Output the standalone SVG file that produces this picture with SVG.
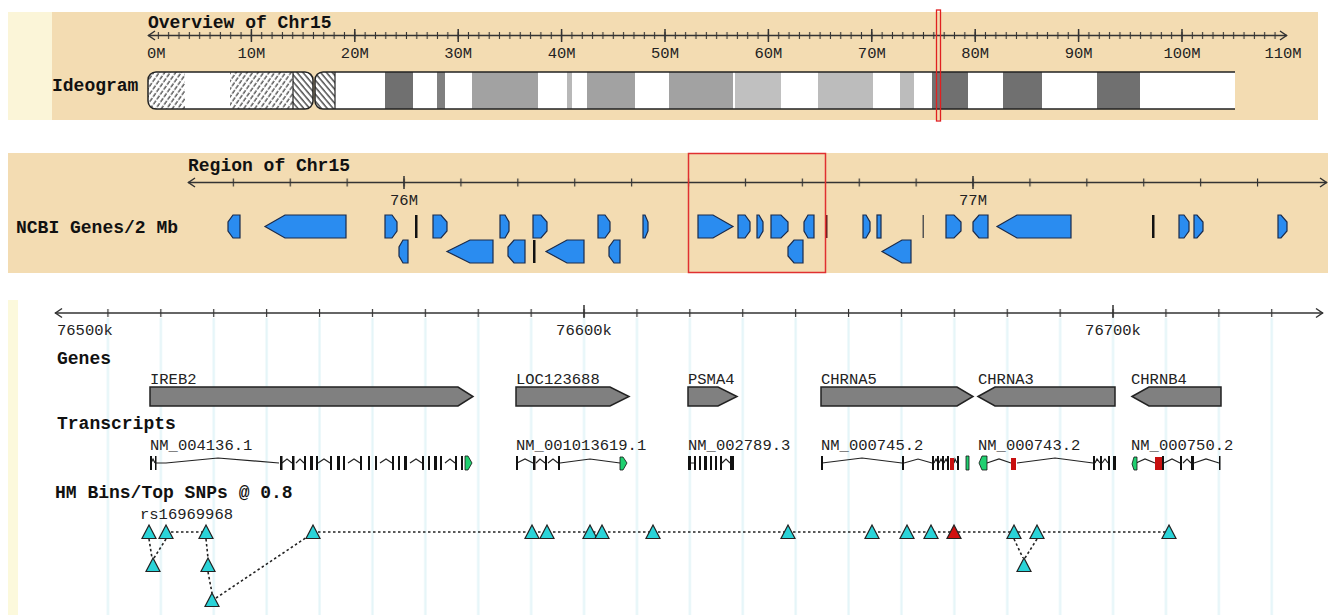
<svg xmlns="http://www.w3.org/2000/svg" width="1328" height="615" viewBox="0 0 1328 615">
<style>
.bt{font-family:"Liberation Mono","DejaVu Sans Mono",monospace;font-weight:bold;font-size:18px;fill:#111}
.lb{font-family:"Liberation Mono","DejaVu Sans Mono",monospace;font-size:15.5px;fill:#222}
.ax{stroke:#333;stroke-width:1.5;fill:none}
.gb{fill:#2a8cf0;stroke:#1a2a4a;stroke-width:1.2}
.gg{fill:#808080;stroke:#222;stroke-width:1.5}
.ex{fill:#111}
.in{stroke:#222;stroke-width:1.2;fill:none}
.snp{fill:#2ad3d8;stroke:#222;stroke-width:1.2}
.ld{stroke:#222;stroke-width:1.6;stroke-dasharray:2.5 2.5;fill:none}
.gr{fill:#20d070;stroke:#111;stroke-width:0.8}
.rd{fill:#c81010}
</style>
<defs>
<pattern id="tk1" patternUnits="userSpaceOnUse" x="142.83" y="0" width="10.34" height="10"><rect x="4.6" y="0" width="1.1" height="10" fill="#333"/></pattern>
<pattern id="tk2" patternUnits="userSpaceOnUse" x="375.55" y="0" width="56.9" height="10"><rect x="27.9" y="0" width="1.2" height="10" fill="#333"/></pattern>
<pattern id="tk3" patternUnits="userSpaceOnUse" x="557.55" y="0" width="52.9" height="10"><rect x="25.9" y="0" width="1.2" height="10" fill="#333"/></pattern>
<pattern id="grid" patternUnits="userSpaceOnUse" x="557.55" y="0" width="52.9" height="10"><rect x="25.4" y="0" width="2.2" height="10" fill="#e4f5f8"/></pattern>
<pattern id="hd" patternUnits="userSpaceOnUse" width="4.5" height="6" patternTransform="rotate(35)"><line x1="1" y1="0" x2="1" y2="6" stroke="#222" stroke-width="1.1" stroke-dasharray="3.5 1.5"/></pattern>
<pattern id="hb" patternUnits="userSpaceOnUse" width="4.5" height="5" patternTransform="rotate(-40)"><line x1="1" y1="0" x2="1" y2="5" stroke="#222" stroke-width="1.2"/></pattern>
<clipPath id="parm"><rect x="148" y="72" width="165" height="37" rx="8"/></clipPath>
<clipPath id="qarm"><path d="M323,72 H1235 V109 H323 A8,8 0 0 1 315,101 V80 A8,8 0 0 1 323,72 Z"/></clipPath>
</defs>

<!-- backgrounds -->
<rect x="8" y="12" width="44" height="108" fill="#fbf5d8"/>
<rect x="52" y="12" width="1266" height="108" fill="#f3dcb2"/>
<rect x="8" y="153" width="1320" height="120" fill="#f3dcb2"/>
<rect x="8" y="300" width="10" height="315" fill="#fcf9dc"/>
<rect x="100" y="318" width="1190" height="297" fill="url(#grid)"/>

<!-- overview -->
<g id="overview">
<text class="bt" x="148" y="27.5">Overview of Chr15</text>
<line class="ax" x1="148" y1="35.5" x2="1287" y2="35.5"/>
<path class="ax" d="M155,31 L148.5,35.5 L155,40 M1280,31 L1286.5,35.5 L1280,40"/>
<rect x="152" y="32" width="1130" height="7" fill="url(#tk1)"/>
<path class="ax" d="M251.4,29V42M354.8,29V42M458.2,29V42M561.6,29V42M665,29V42M768.4,29V42M871.8,29V42M975.2,29V42M1078.6,29V42M1182,29V42"/>
<g class="lb">
<text x="147" y="58">0M</text>
<text x="251.4" y="58" text-anchor="middle">10M</text>
<text x="354.8" y="58" text-anchor="middle">20M</text>
<text x="458.2" y="58" text-anchor="middle">30M</text>
<text x="561.6" y="58" text-anchor="middle">40M</text>
<text x="665" y="58" text-anchor="middle">50M</text>
<text x="768.4" y="58" text-anchor="middle">60M</text>
<text x="871.8" y="58" text-anchor="middle">70M</text>
<text x="975.2" y="58" text-anchor="middle">80M</text>
<text x="1078.6" y="58" text-anchor="middle">90M</text>
<text x="1182" y="58" text-anchor="middle">100M</text>
<text x="1283" y="58" text-anchor="middle">110M</text>
</g>
</g>

<g id="ideogram">
<text class="bt" x="52" y="91">Ideogram</text>
<g clip-path="url(#parm)">
<rect x="148" y="72" width="165" height="37" fill="#fff"/>
<rect x="148" y="72" width="37" height="37" fill="url(#hd)"/>
<rect x="230" y="72" width="63" height="37" fill="url(#hd)"/>
<rect x="293" y="72" width="20" height="37" fill="url(#hb)"/>
</g>
<line x1="293" y1="72" x2="293" y2="109" stroke="#222" stroke-width="1.2"/>
<rect x="148" y="72" width="165" height="37" rx="8" fill="none" stroke="#222" stroke-width="1.5"/>
<g clip-path="url(#qarm)">
<rect x="315" y="72" width="920" height="37" fill="#fff"/>
<rect x="315" y="72" width="20" height="37" fill="url(#hb)"/>
<rect x="385" y="72" width="28" height="37" fill="#707070"/>
<rect x="437" y="72" width="8" height="37" fill="#808080"/>
<rect x="472" y="72" width="66" height="37" fill="#a2a2a2"/>
<rect x="567" y="72" width="5" height="37" fill="#b8b8b8"/>
<rect x="587" y="72" width="48" height="37" fill="#a2a2a2"/>
<rect x="669" y="72" width="64" height="37" fill="#a2a2a2"/>
<rect x="735" y="72" width="46" height="37" fill="#c0c0c0"/>
<rect x="818" y="72" width="55" height="37" fill="#bcbcbc"/>
<rect x="900" y="72" width="14" height="37" fill="#bcbcbc"/>
<rect x="932" y="72" width="36" height="37" fill="#707070"/>
<rect x="1003" y="72" width="39" height="37" fill="#707070"/>
<rect x="1097" y="72" width="43" height="37" fill="#707070"/>
</g>
<line x1="335" y1="72" x2="335" y2="109" stroke="#222" stroke-width="1.2"/>
<path d="M1235,72 H323 A8,8 0 0 0 315,80 V101 A8,8 0 0 0 323,109 H1235" fill="none" stroke="#222" stroke-width="1.5"/>
<rect x="936.5" y="10" width="4" height="111" fill="none" stroke="#e02020" stroke-width="1.3"/>
</g>

<!-- region -->
<g id="region">
<text class="bt" x="188" y="171">Region of Chr15</text>
<line class="ax" x1="188" y1="182.5" x2="1327" y2="182.5"/>
<path class="ax" d="M195,178 L188.5,182.5 L195,187 M1320,178 L1326.5,182.5 L1320,187"/>
<rect x="225" y="178.5" width="1040" height="8" fill="url(#tk2)"/>
<path class="ax" d="M404,176V189M973,176V189"/>
<text class="lb" x="404" y="205" text-anchor="middle">76M</text>
<text class="lb" x="973" y="205" text-anchor="middle">77M</text>
<text class="bt" x="16" y="233">NCBI Genes/2 Mb</text>
</g>

<g id="region-genes">
<path class="gb" d="M240,215 V238 H233 L228,231 V222 L233,215 Z"/>
<path class="gb" d="M346,215 V238 H285 L265,226.5 L285,215 Z"/>
<path class="gb" d="M385,215 H392 L397,222 V231 L392,238 H385 Z"/>
<rect x="415" y="215" width="2.5" height="23" fill="#111"/>
<path class="gb" d="M408,240 V263 H403 L399,256 V247 L403,240 Z"/>
<path class="gb" d="M433,215 H441 L447,222 V231 L441,238 H433 Z"/>
<path class="gb" d="M493,240 V263 H470 L447,251.5 L470,240 Z"/>
<path class="gb" d="M500,215 H505 L509,222 V231 L505,238 H500 Z"/>
<path class="gb" d="M525,240 V263 H514 L508,256 V247 L514,240 Z"/>
<rect x="533" y="240" width="2.5" height="23" fill="#111"/>
<path class="gb" d="M533,215 H541 L547,222 V231 L541,238 H533 Z"/>
<path class="gb" d="M584,240 V263 H567 L546,251.5 L567,240 Z"/>
<path class="gb" d="M598,215 H605 L610,222 V231 L605,238 H598 Z"/>
<path class="gb" d="M620,240 V263 H614 L609,256 V247 L614,240 Z"/>
<path class="gb" d="M643,215 H645 L648,222 V231 L645,238 H643 Z"/>
<path class="gb" d="M698,215 H713 L733,226.5 L713,238 H698 Z"/>
<path class="gb" d="M738,215 H745 L750,222 V231 L745,238 H738 Z"/>
<path class="gb" d="M757,215 H759 L763,222 V231 L759,238 H757 Z"/>
<path class="gb" d="M771,215 H781 L788,222 V231 L781,238 H771 Z"/>
<path class="gb" d="M814,215 V238 H808 L804,231 V222 L808,215 Z"/>
<path class="gb" d="M803,240 V263 H794 L788,256 V247 L794,240 Z"/>
<rect x="825" y="215" width="2.5" height="23" fill="#5a1a1a"/>
<path class="gb" d="M863,215 H866 L870,222 V231 L866,238 H863 Z"/>
<rect class="gb" x="877" y="215" width="4" height="23"/>
<path class="gb" d="M911,240 V263 H902 L882,251.5 L902,240 Z"/>
<rect x="922.5" y="215" width="1.5" height="23" fill="#555"/>
<path class="gb" d="M946,215 H954 L961,222 V231 L954,238 H946 Z"/>
<path class="gb" d="M988,215 V238 H979 L973,231 V222 L979,215 Z"/>
<path class="gb" d="M1071,215 V238 H1017 L997,226.5 L1017,215 Z"/>
<rect x="1152" y="215" width="2.5" height="23" fill="#111"/>
<path class="gb" d="M1179,215 H1184 L1189,222 V231 L1184,238 H1179 Z"/>
<path class="gb" d="M1194,215 H1197 L1203,222 V231 L1197,238 H1194 Z"/>
<path class="gb" d="M1278,215 H1281 L1287,222 V231 L1281,238 H1278 Z"/>
<rect x="688.5" y="153.5" width="137" height="119" fill="none" stroke="#e03030" stroke-width="1.5"/>
</g>

<!-- detail ruler -->
<g id="detail-ruler">
<line class="ax" x1="55" y1="313" x2="1323" y2="313"/>
<path class="ax" d="M62,308.5 L55.5,313 L62,317.5 M1316,308.5 L1322.5,313 L1316,317.5"/>
<rect x="100" y="309" width="1180" height="8" fill="url(#tk3)"/>
<path class="ax" d="M584,305V318M1113,305V318"/>
<text class="lb" x="57" y="335">76500k</text>
<text class="lb" x="584" y="335" text-anchor="middle">76600k</text>
<text class="lb" x="1113" y="335" text-anchor="middle">76700k</text>
</g>

<g id="genes">
<text class="bt" x="57" y="364">Genes</text>
<g id="IREB2"><text class="lb" x="150" y="384">IREB2</text><path class="gg" d="M150,387 H458 L473,396.5 L458,406 H150 Z"/></g>
<g id="LOC123688"><text class="lb" x="516" y="384">LOC123688</text><path class="gg" d="M516,387 H610 L629,396.5 L610,406 H516 Z"/></g>
<g id="PSMA4"><text class="lb" x="688" y="384">PSMA4</text><path class="gg" d="M688,387 H718 L737,396.5 L718,406 H688 Z"/></g>
<g id="CHRNA5"><text class="lb" x="821" y="384">CHRNA5</text><path class="gg" d="M821,387 H957 L973,396.5 L957,406 H821 Z"/></g>
<g id="CHRNA3"><text class="lb" x="978" y="384">CHRNA3</text><path class="gg" d="M978,396.5 L995,387 H1115 V406 H995 Z"/></g>
<g id="CHRNB4"><text class="lb" x="1131" y="384">CHRNB4</text><path class="gg" d="M1132,396.5 L1149,387 H1221 V406 H1149 Z"/></g>
</g>

<g id="transcripts">
<text class="bt" x="57" y="429">Transcripts</text>
<g id="NM_004136"><text class="lb" x="150" y="450">NM_004136.1</text>
<path class="in" d="M151,463 L153,459 L155,463 M156,463 H166 L218,458 L279,463 M282,463 L287,459 L292,463 M296,463 L300,459 L304,463 M318,463 L324,459 L330,463 M348,463 L354,459 L360,463 M380,463 L386,459 L392,463 M410,463 L416,459 L422,463 M445,463 L450,459 L455,463"/>
<path class="ex" d="M150,456h2v14h-2zM155,456h1.5v14h-1.5zM280,456h2.5v14h-2.5zM292,456h2.5v14h-2.5zM304,456h2v14h-2zM310,456h3v14h-3zM316,456h2v14h-2zM330,456h2v14h-2zM337,456h3v14h-3zM343,456h2v14h-2zM360,456h2v14h-2zM368,456h2v14h-2zM375,456h2v14h-2zM392,456h2v14h-2zM398,456h2v14h-2zM404,456h3v14h-3zM422,456h2v14h-2zM428,456h2v14h-2zM434,456h3v14h-3zM440,456h2v14h-2zM455,456h2v14h-2zM461,456h2v14h-2z"/>
<path class="gr" d="M465,456h3l4,7l-4,7h-3z"/>
</g>
<g id="NM_001013619"><text class="lb" x="516" y="450">NM_001013619.1</text>
<path class="in" d="M517,463 L525,459 L533,463 M536,463 L540,459 L545,463 M548,463 L553,459 L558,463 M560,463 L590,459 L620,463"/>
<path class="ex" d="M516,456h2v14h-2zM533,456h2.5v14h-2.5zM545,456h2v14h-2zM558,456h2v14h-2z"/>
<path class="gr" d="M620,457h3l4,6l-4,7h-3z"/>
</g>
<g id="NM_002789"><text class="lb" x="688" y="450">NM_002789.3</text>
<path class="ex" d="M688,456h3v14h-3zM694,456h2v14h-2zM699,456h2v14h-2zM704,456h3v14h-3zM710,456h2v14h-2zM715,456h2v14h-2zM720,456h2v14h-2zM730,456h4v14h-4z"/>
<path class="in" d="M691,463 H694 M722,463 L726,459 L730,463"/>
</g>
<g id="NM_000745"><text class="lb" x="821" y="450">NM_000745.2</text>
<path class="in" d="M822,463 L862,458 L902,463 M904,463 L918,459 L932,463 M934,463 L936,459 L938,463 M939,463 L941,459 L943,463 M944,463 L946,459 L948,463 M954,463 L955,459 L957,463"/>
<path class="ex" d="M821,456h2v14h-2zM902,456h2v14h-2zM932,456h2v14h-2zM937,456h2v14h-2zM942,456h2v14h-2zM947,456h2v14h-2zM957,456h2v14h-2z"/>
<path class="rd" d="M950,458h4v12h-4z"/>
<path class="gr" d="M966,456h3v14h-3z"/>
</g>
<g id="NM_000743"><text class="lb" x="978" y="450">NM_000743.2</text>
<path class="in" d="M987,463 L999,459 L1011,463 M1017,463 L1055,458 L1093,463 M1095,463 L1097,459 L1100,463 M1102,463 L1105,459 L1108,463"/>
<path class="gr" d="M982,456h5v14h-5l-3,-7z"/>
<path class="rd" d="M1011,458h5v12h-5z"/>
<path class="ex" d="M1093,456h2v14h-2zM1100,456h2v14h-2zM1108,456h2v14h-2zM1113,456h3v14h-3z"/>
</g>
<g id="NM_000750"><text class="lb" x="1131" y="450">NM_000750.2</text>
<path class="in" d="M1136,463 L1145,459 L1155,463 M1164,463 L1172,459 L1180,463 M1183,463 L1187,459 L1191,463 M1194,463 L1206,459 L1219,463"/>
<path class="gr" d="M1134,457h3v13h-3l-2,-6z"/>
<path class="rd" d="M1155,457h7v13h-7z"/>
<path class="ex" d="M1162,456h2v14h-2zM1180,456h2v14h-2zM1191,456h3v14h-3zM1219,456h1.5v14h-1.5z"/>
</g>
</g>

<g id="snps">
<text class="bt" x="55" y="498">HM Bins/Top SNPs @ 0.8</text>
<text class="lb" x="140" y="519">rs16969968</text>
</g>

<g id="connectors">
<path class="ld" d="M166,532 H206 M313,532 H1169"/>
<path class="ld" d="M149,539 L152,558 M166,539 L154,558 M206,539 L208,558 M208,572 L212,593 M216,598 L313,533 M1014,539 L1023,558 M1037,539 L1025,558"/>
</g>

<g id="snp-markers">
<path class="snp" d="M149,525 l7,13.5 h-14 z"/>
<path class="snp" d="M166,525 l7,13.5 h-14 z"/>
<path class="snp" d="M206,525 l7,13.5 h-14 z"/>
<path class="snp" d="M313,525 l7,13.5 h-14 z"/>
<path class="snp" d="M532,525 l7,13.5 h-14 z"/>
<path class="snp" d="M547,525 l7,13.5 h-14 z"/>
<path class="snp" d="M590,525 l7,13.5 h-14 z"/>
<path class="snp" d="M602,525 l7,13.5 h-14 z"/>
<path class="snp" d="M653,525 l7,13.5 h-14 z"/>
<path class="snp" d="M788,525 l7,13.5 h-14 z"/>
<path class="snp" d="M872,525 l7,13.5 h-14 z"/>
<path class="snp" d="M907,525 l7,13.5 h-14 z"/>
<path class="snp" d="M931,525 l7,13.5 h-14 z"/>
<path d="M954,525 l7,13.5 h-14 z" fill="#d01010" stroke="#222" stroke-width="1.2"/>
<path class="snp" d="M1014,525 l7,13.5 h-14 z"/>
<path class="snp" d="M1037,525 l7,13.5 h-14 z"/>
<path class="snp" d="M1169,525 l7,13.5 h-14 z"/>
<path class="snp" d="M153,558 l7,13.5 h-14 z"/>
<path class="snp" d="M208,558 l7,13.5 h-14 z"/>
<path class="snp" d="M1024,558 l7,13.5 h-14 z"/>
<path class="snp" d="M212,593 l7,13.5 h-14 z"/>
</g>
</svg>
